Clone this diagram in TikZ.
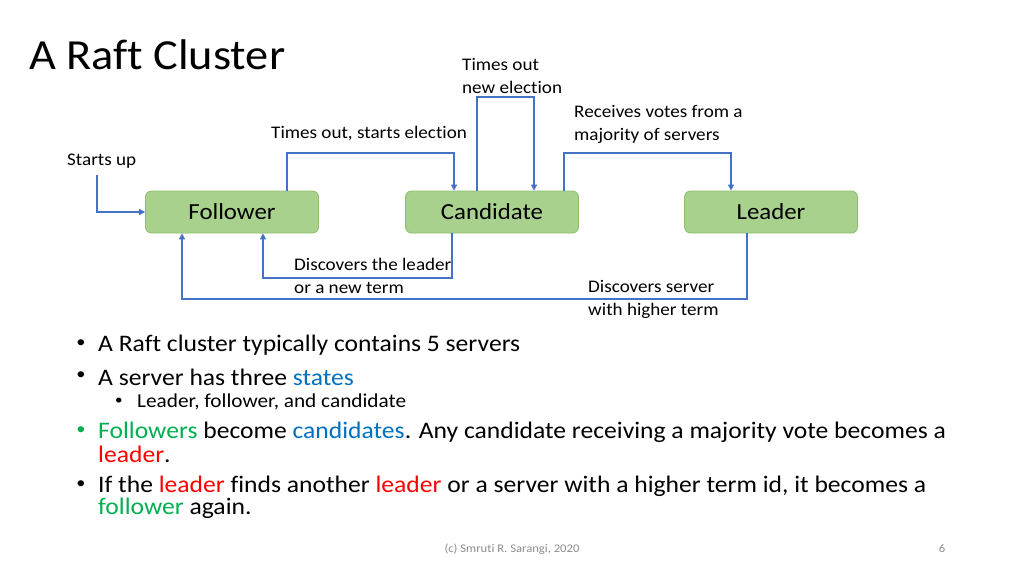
\documentclass[tikz,border=0pt]{standalone}
\usepackage{fontspec}
\setmainfont{Carlito}[FakeStretch=1.08, Ligatures=NoCommon]
\usetikzlibrary{arrows.meta}
\definecolor{arrowblue}{HTML}{4472C4}
\definecolor{boxfill}{HTML}{A9D18E}
\definecolor{boxedge}{HTML}{8CBF6C}
\definecolor{wblue}{HTML}{0070C0}
\definecolor{wgreen}{HTML}{00B050}
\definecolor{wred}{HTML}{FF0000}
\definecolor{footgray}{HTML}{8C8C8C}
\begin{document}
\begin{tikzpicture}[x=1pt,y=-1pt,
  state/.style={draw=boxedge, fill=boxfill, rounded corners=6pt, minimum width=173pt, minimum height=42pt, inner sep=0pt, font=\fontsize{23}{26}\selectfont, line width=0.8pt},
  flow/.style={draw=arrowblue, line width=2pt, -{Triangle[length=6pt,width=6pt]}},
  lbl/.style={anchor=west, inner sep=0pt, font=\fontsize{17.7}{23}\selectfont, align=left},
  bul/.style={anchor=west, inner sep=0pt, font=\fontsize{23.7}{24}\selectfont},
  dot/.style={inner sep=0pt, font=\fontsize{17}{18}\selectfont},
  subdot/.style={inner sep=0pt, font=\fontsize{14}{16}\selectfont},
  subbul/.style={anchor=west, inner sep=0pt, font=\fontsize{19.7}{21}\selectfont},
  foot/.style={inner sep=0pt, text=footgray, font=\fontsize{11.7}{14}\selectfont}]
\useasboundingbox (0,0) rectangle (1024,576);
\fill[white] (0,0) rectangle (1024,576);

\node[anchor=west, inner sep=0pt, font=\fontsize{42.9}{44}\selectfont] (title) at (29,55) {A Raft Cluster};

\node[state] (fol) at (232,212) {Follower};
\node[state] (cand) at (492,212) {Candidate};
\node[state] (lead) at (771,212) {Leader};

\coordinate (su) at (97,175);
\node[lbl] (lsu) at (67,161) {Starts up};
\draw[flow] (su) |- (fol.west);

\draw[flow] ([xshift=55pt]fol.north) -- ++(0,-38) -| ([xshift=-38pt]cand.north);
\node[lbl] (lfc) at (271,133) {Times out, starts election};

\draw[flow] ([xshift=-15pt]cand.north) -- ++(0,-94) -| ([xshift=42pt]cand.north);
\node[lbl] (lcc) at (462,75.5) {Times out\\new election};

\draw[flow] ([xshift=72pt]cand.north) -- ++(0,-38) -| ([xshift=-40pt]lead.north);
\node[lbl] (lcl) at (574,124.5) {Receives votes from a\\majority of servers};

\draw[flow] ([xshift=-40pt]cand.south) -- ++(0,45) -| ([xshift=31pt]fol.south);
\node[lbl] (lcf) at (294,275.5) {Discovers the leader\\or a new term};

\draw[flow] ([xshift=-24pt]lead.south) -- ++(0,66) -| ([xshift=-50pt]fol.south);
\node[lbl] (llf) at (588,299.5) {Discovers server\\with higher term};

\node[dot] (b1d) at (81,344) {•};
\node[bul] (b1) at (98,345) {A Raft cluster typically contains 5 servers};
\node[dot] (b2d) at (81,376) {•};
\node[bul] (b2) at (98,377) {A server has three \textcolor{wblue}{states}};
\node[subdot] (s1d) at (119,401) {•};
\node[subbul] (s1) at (137,402) {Leader, follower, and candidate};
\node[dot, text=wgreen] (b3d) at (81,431) {•};
\node[bul] (b3) at (98,432) {\textcolor{wgreen}{Followers} become \textcolor{wblue}{candidates}. Any candidate receiving a majority vote becomes a};
\node[bul] (b3b) at (98,454) {\textcolor{wred}{leader}.};
\node[dot] (b4d) at (81,485) {•};
\node[bul] (b4) at (98,486) {If the \textcolor{wred}{leader} finds another \textcolor{wred}{leader} or a server with a higher term id, it becomes a};
\node[bul] (b4b) at (98,508) {\textcolor{wgreen}{follower} again.};

\node[foot] (fl) at (512,549) {(c) Smruti R. Sarangi, 2020};
\node[foot] (pg) at (942,549) {6};
\end{tikzpicture}
\end{document}
